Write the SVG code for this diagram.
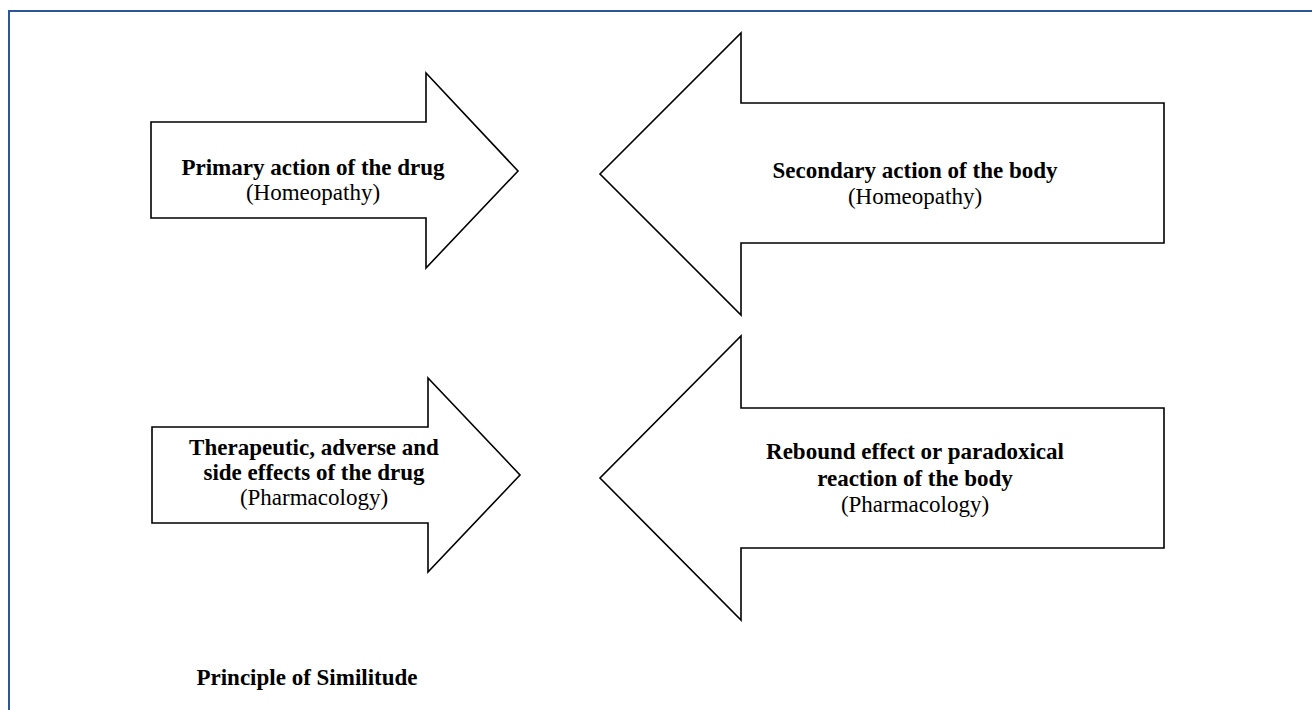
<svg xmlns="http://www.w3.org/2000/svg" width="1312" height="710" viewBox="0 0 1312 710">
<style>
.arrow{fill:#ffffff;stroke:#000000;stroke-width:1.6;stroke-linejoin:miter}
.b{font-family:"Liberation Serif","Times New Roman",serif;font-weight:bold;font-size:23px;fill:#000000;text-anchor:middle}
.r{font-family:"Liberation Serif","Times New Roman",serif;font-size:23px;fill:#000000;text-anchor:middle}
.frame{fill:none;stroke:#2E5597;stroke-width:2}
</style>
<rect width="1312" height="710" fill="#ffffff"/>
<path class="frame" d="M9,710 L9,11 L1312,11"/>
<g id="primary">
<polygon class="arrow" points="151,122 426,122 426,73 518,171 426,268 426,218 151,218"/>
<text class="b" x="313" y="175">Primary action of the drug</text>
<text class="r" x="313" y="200">(Homeopathy)</text>
</g>
<g id="secondary">
<polygon class="arrow" points="1164,103 741,103 741,33 600,174 741,315 741,243 1164,243"/>
<text class="b" x="915" y="178">Secondary action of the body</text>
<text class="r" x="915" y="204">(Homeopathy)</text>
</g>
<g id="therapeutic">
<polygon class="arrow" points="152,427 428,427 428,378 520,475 428,572 428,523 152,523"/>
<text class="b" x="314" y="455">Therapeutic, adverse and</text>
<text class="b" x="314" y="480">side effects of the drug</text>
<text class="r" x="314" y="505">(Pharmacology)</text>
</g>
<g id="rebound">
<polygon class="arrow" points="1164,408 741,408 741,336 600,478 741,620 741,548 1164,548"/>
<text class="b" x="915" y="459">Rebound effect or paradoxical</text>
<text class="b" x="915" y="486">reaction of the body</text>
<text class="r" x="915" y="512">(Pharmacology)</text>
</g>
<g id="title">
<text class="b" x="307" y="685">Principle of Similitude</text>
</g>
<g id="connectors"></g>
</svg>
